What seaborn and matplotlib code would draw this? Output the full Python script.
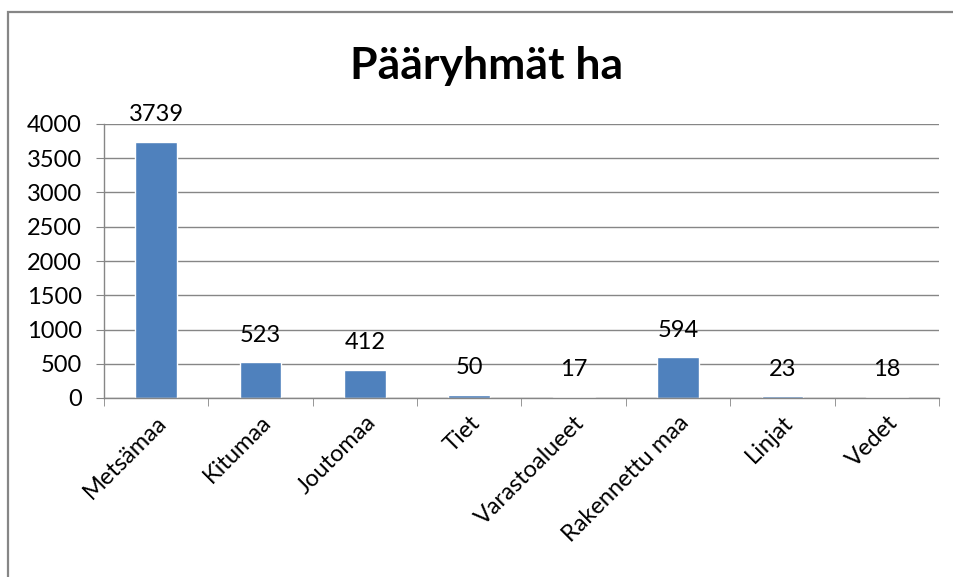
import matplotlib.pyplot as plt
import matplotlib.patches as mpatches
import seaborn as sns

# data
categories = ['Metsämaa', 'Kitumaa', 'Joutomaa', 'Tiet', 'Varastoalueet',
              'Rakennettu maa', 'Linjat', 'Vedet']
hectares = [3739, 523, 412, 50, 17, 594, 23, 18]
y_ticks = [0, 500, 1000, 1500, 2000, 2500, 3000, 3500, 4000]

sns.set_style('white')
plt.rcParams['font.family'] = ['Lato', 'DejaVu Sans']
plt.rcParams['text.color'] = 'black'
plt.rcParams['xtick.color'] = 'black'
plt.rcParams['ytick.color'] = 'black'

bar_color = '#4F81BD'
line_color = '#868686'

fig = plt.figure(figsize=(9.54, 5.77), dpi=100)
ax = fig.add_axes([104/954, 1-398/577, (939-104)/954, (398-124)/577])

sns.barplot(x=categories, y=hectares, color=bar_color, width=0.4,
            saturation=1, ax=ax)
ax.bar_label(ax.containers[0], padding=12, fontsize=17, color='black')

ax.set_ylim(0, 4000)
ax.set_xlim(-0.5, len(categories) - 0.5)
ax.set_yticks(y_ticks)
ax.yaxis.grid(True, color=line_color, lw=1)
ax.set_axisbelow(True)
ax.set_xlabel('')
ax.set_ylabel('')

for s in ['top', 'right']:
    ax.spines[s].set_visible(False)
for s in ['left', 'bottom']:
    ax.spines[s].set_color(line_color)
    ax.spines[s].set_linewidth(1)

ax.tick_params(axis='y', labelsize=17, length=6, color=line_color,
               labelcolor='black', left=True, direction='out', pad=10)
ax.tick_params(axis='x', which='major', length=0, labelsize=17, pad=10,
               labelcolor='black')
ax.set_xticks([i - 0.5 for i in range(len(categories) + 1)], minor=True)
ax.tick_params(axis='x', which='minor', length=6, color=line_color,
               bottom=True, direction='out')
plt.setp(ax.get_xticklabels(), rotation=45, ha='right',
         rotation_mode='anchor')

fig.text(487/954, 1-66/577, 'Pääryhmät ha', ha='center', va='center',
         fontsize=32, fontweight='bold', color='black')

# outer chart border (clipped at the right and bottom like the reference)
fig.patches.append(mpatches.Rectangle((8/954, -0.1), 1.2, 1.1 - 12/577,
                                      transform=fig.transFigure, fill=False,
                                      edgecolor=line_color, lw=1.6))

fig.savefig('out.png', dpi=100)
